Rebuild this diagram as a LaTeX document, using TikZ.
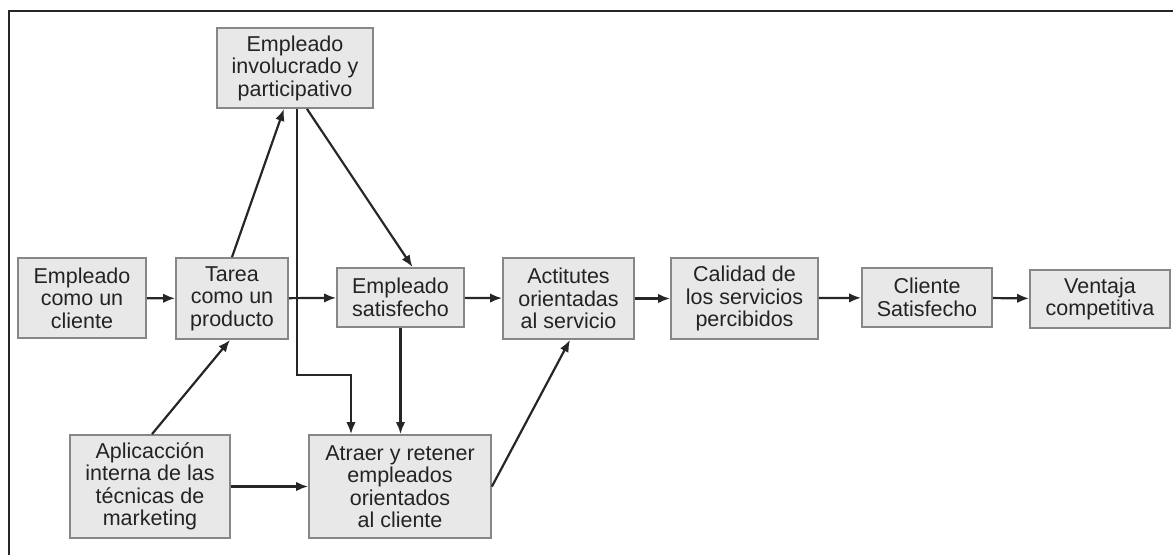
\documentclass[tikz,border=0pt]{standalone}
\usepackage{fontspec}
\setmainfont{Liberation Sans}
\usepackage{tikz}
\usepackage{xcolor}
\usetikzlibrary{arrows.meta}

\definecolor{boxfill}{RGB}{232,232,232}
\definecolor{boxline}{RGB}{135,135,135}
\definecolor{txt}{RGB}{35,35,35}

\tikzset{
  blk/.style={rectangle, draw=boxline, fill=boxfill, line width=1.8pt,
    align=center, text=txt, inner sep=0pt,
    font=\fontsize{21.5}{22.5}\selectfont},
  lnk/.style={line width=2.2pt, draw=black!85},
  >={Latex[length=12pt,width=9.5pt]}
}

\begin{document}
\begin{tikzpicture}[x=1pt, y=-1pt]
%    \draw [help lines, opacity=0.5] (0,0) grid (1173,555);
    \useasboundingbox (0,0) rectangle (1173,555);
    %% frame, only top and left are visible
    \draw [line width=2.5pt, black!85] (1173,11) -- (9,11) -- (9,555);

    \node (inv) [blk, minimum width=156pt, minimum height=80pt] at (295,68) {Empleado\\involucrado y\\participativo};

    \node (ecl) [blk, minimum width=128pt, minimum height=80pt] at (82,298) {Empleado\\como un\\cliente};
    \node (tar) [blk, minimum width=112pt, minimum height=81pt] at (232,298.5) {Tarea\\como un\\producto};
    \node (sat) [blk, minimum width=127pt, minimum height=59pt] at (400.5,297.5) {Empleado\\satisfecho};
    \node (act) [blk, minimum width=131pt, minimum height=81pt] at (568.5,298.5) {Actitutes\\orientadas\\al servicio};
    \node (cal) [blk, minimum width=147pt, minimum height=81pt] at (744.5,298.5) {Calidad de\\los servicios\\percibidos};
    \node (cli) [blk, minimum width=130pt, minimum height=59pt] at (927,297.5) {Cliente\\Satisfecho};
    \node (ven) [blk, minimum width=140pt, minimum height=58pt] at (1100,299) {Ventaja\\competitiva};

    \node (apl) [blk, minimum width=160pt, minimum height=103pt] at (150,486.5) {Aplicacción\\interna de las\\técnicas de\\marketing};
    \node (atr) [blk, minimum width=182pt, minimum height=103pt] at (400,486.5) {Atraer y retener\\empleados\\orientados\\al cliente};

    \coordinate (bend) at (351,375);

    \draw [lnk, ->] (ecl) -- (tar);
    \draw [lnk, ->] (tar) -- (sat);
    \draw [lnk, ->] (sat) -- (act);
    \draw [lnk, ->] (act) -- (cal);
    \draw [lnk, ->] (cal) -- (cli);
    \draw [lnk, ->] (cli) -- (ven);

    \draw [lnk, ->] (tar.north) -- ([xshift=-11pt]inv.south);
    \draw [lnk, ->] ([xshift=2pt]inv.south) |- (bend) -- (bend |- atr.north);
    \draw [lnk, ->] ([xshift=12pt]inv.south) -- ([xshift=12pt]sat.north);
    \draw [lnk, ->] (sat) -- (sat |- atr.north);

    \draw [lnk, ->] ([xshift=2pt]apl.north) -- ([xshift=-2pt]tar.south);
    \draw [lnk, ->] (apl) -- (atr);
    \draw [lnk, ->] (atr.east) -- ([xshift=1.5pt]act.south);

  \end{tikzpicture}
\end{document}
